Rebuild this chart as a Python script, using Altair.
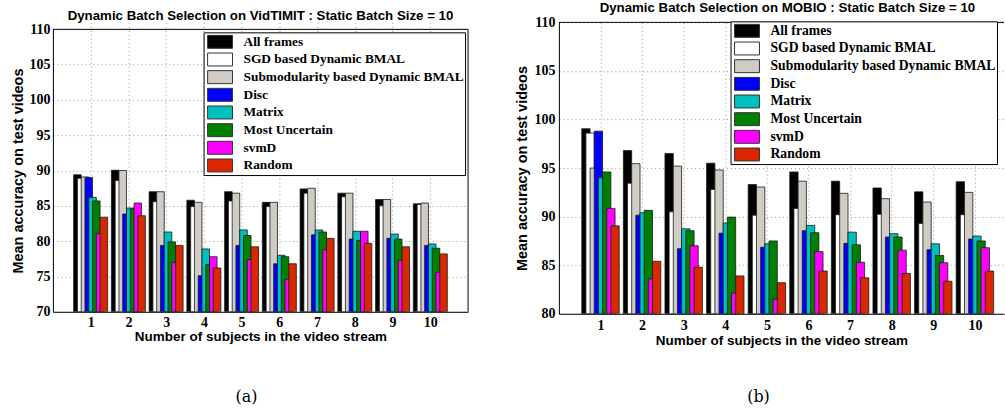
import altair as alt
import pandas as pd

subjects = [1, 2, 3, 4, 5, 6, 7, 8, 9, 10]
series_names = ["All frames", "SGD based Dynamic BMAL", "Submodularity based Dynamic BMAL",
                "Disc", "Matrix", "Most Uncertain", "svmD", "Random"]
series_colors = ["#000000", "#ffffff", "#d0ccc5", "#0000ff", "#00bfbf", "#008000", "#ff00ff", "#d92800"]

# Panel (a): VidTIMIT
all_frames_a = [89.4, 90.05, 87.0, 85.8, 87.0, 85.5, 87.4, 86.8, 85.9, 85.3]
sgd_a = [88.9, 88.6, 85.6, 84.9, 85.7, 84.9, 86.8, 86.3, 85.0, 85.2]
submod_a = [89.1, 90.0, 87.0, 85.5, 86.8, 85.5, 87.5, 86.8, 85.9, 85.4]
disc_a = [89.0, 83.85, 79.4, 75.1, 79.4, 76.8, 80.9, 80.3, 80.4, 79.4]
matrix_a = [86.2, 84.7, 81.3, 78.9, 81.6, 78.0, 81.6, 81.4, 81.0, 79.6]
uncertain_a = [85.7, 84.55, 79.9, 76.7, 80.8, 77.8, 81.3, 80.1, 80.3, 79.0]
svmd_a = [81.1, 85.4, 77.0, 77.8, 77.4, 74.6, 78.8, 81.4, 77.3, 75.6]
random_a = [83.4, 83.6, 79.4, 76.2, 79.2, 76.8, 80.4, 79.7, 79.2, 78.2]

# Panel (b): MOBIO
all_frames_b = [99.05, 96.8, 96.5, 95.5, 93.3, 94.6, 93.65, 92.95, 92.55, 93.6]
sgd_b = [98.6, 93.45, 90.5, 92.8, 90.15, 90.85, 90.2, 90.25, 89.3, 90.2]
submod_b = [95.0, 95.45, 95.2, 94.8, 93.05, 93.65, 92.4, 91.85, 91.5, 92.5]
disc_b = [98.8, 90.15, 86.7, 88.3, 86.85, 88.55, 87.25, 87.9, 86.6, 87.7]
matrix_b = [94.0, 90.4, 88.75, 89.35, 87.2, 89.1, 88.4, 88.25, 87.2, 88.0]
uncertain_b = [94.6, 90.65, 88.55, 89.95, 87.5, 88.35, 87.1, 87.9, 86.0, 87.5]
svmd_b = [90.85, 83.6, 87.0, 82.15, 81.5, 86.4, 85.3, 86.55, 85.25, 86.8]
random_b = [89.05, 85.4, 84.8, 83.9, 83.2, 84.4, 83.7, 84.15, 83.35, 84.4]

values_a = [all_frames_a, sgd_a, submod_a, disc_a, matrix_a, uncertain_a, svmd_a, random_a]
values_b = [all_frames_b, sgd_b, submod_b, disc_b, matrix_b, uncertain_b, svmd_b, random_b]

STEP = 0.1     # shift between overlapping bars of a group (x units)
BAR_W = 0.2    # bar width (x units)
SYMBOL = "M-1.56,-0.81H1.56V0.81H-1.56Z"

LABEL_FONT = "Liberation Serif"
TITLE_FONT = "Liberation Sans"


def long_table(series_values, base):
    rows = []
    for i, (name, vals) in enumerate(zip(series_names, series_values)):
        for s, v in zip(subjects, vals):
            x0 = s - 0.45 + i * STEP
            rows.append({"series": name, "order": i, "subject": s, "acc": v,
                         "x0": x0, "x1": x0 + BAR_W, "base": base})
    return pd.DataFrame(rows)


def panel(series_values, base, ymax, xmax, w, h, top, title_params, leg_x, leg_y,
          label_size, cap, cap_x, cap_y, y_lab_pad, y_title_pad, x_lab_pad, x_title_pad,
          right_border):
    df = long_table(series_values, base)
    axis_common = dict(labelFont=LABEL_FONT, labelFontWeight="bold", labelFontSize=14,
                       labelColor="black", titleFont=TITLE_FONT, titleFontWeight="bold",
                       titleColor="black", grid=True, gridDash=[1, 3], gridColor="#999999",
                       domainColor="black", domainWidth=1, ticks=False, labelOverlap=False)
    bars = alt.Chart(df).mark_bar(stroke="#1a1a1a", strokeWidth=0.8, clip=True).encode(
        x=alt.X("x0:Q", scale=alt.Scale(domain=[0, xmax], nice=False, zero=False),
                axis=alt.Axis(values=subjects, format="d",
                              title="Number of subjects in the video stream", titleFontSize=13.5,
                              labelPadding=x_lab_pad, titlePadding=x_title_pad, **axis_common)),
        x2="x1:Q",
        y=alt.Y("acc:Q", scale=alt.Scale(domain=[base, ymax], nice=False, zero=False,
                                         range=[h, top]),
                axis=alt.Axis(values=list(range(base, ymax + 1, 5)),
                              title="Mean accuracy on test videos", titleFontSize=14.5,
                              labelPadding=y_lab_pad, titlePadding=y_title_pad, **axis_common)),
        y2="base:Q",
        color=alt.Color("series:N",
                        scale=alt.Scale(domain=series_names, range=series_colors),
                        legend=alt.Legend(title=None, orient="none", legendX=leg_x, legendY=leg_y,
                                          fillColor="white", strokeColor="black", padding=1,
                                          rowPadding=0.7, symbolType=SYMBOL, symbolSize=256,
                                          symbolOffset=7, labelOffset=15,
                                          symbolStrokeColor="#333", symbolStrokeWidth=1,
                                          labelFont=LABEL_FONT, labelFontWeight="bold",
                                          labelFontSize=label_size, labelColor="black",
                                          labelLimit=400)),
        order=alt.Order("order:Q"),
    )
    caption = alt.Chart(pd.DataFrame({"cap": [cap]})).mark_text(
        font="DejaVu Serif", fontSize=16, color="black", align="center", baseline="middle"
    ).encode(text="cap:N", x=alt.value(cap_x), y=alt.value(cap_y))
    frame = alt.Chart(pd.DataFrame({"k": [0]}))
    layers = [bars, caption,
              frame.mark_rule(color="black", strokeWidth=1).encode(
                  x=alt.value(0), x2=alt.value(w), y=alt.value(top))]
    if right_border:
        layers.append(frame.mark_rule(color="black", strokeWidth=1).encode(
            x=alt.value(w), y=alt.value(top), y2=alt.value(h)))
    return alt.layer(*layers).properties(
        width=w, height=h, title=title_params,
        view=alt.ViewConfig(stroke=None),
    )


title_a = alt.TitleParams(
    text="Dynamic Batch Selection on VidTIMIT : Static Batch Size = 10",
    font=TITLE_FONT, fontWeight="bold", fontSize=13.3, color="black", offset=1, dy=1)
title_b = alt.TitleParams(
    text="Dynamic Batch Selection on MOBIO : Static Batch Size = 10",
    font=TITLE_FONT, fontWeight="bold", fontSize=13.3, color="black", offset=1, dx=6)

chart_a = panel(values_a, 70, 110, 11, 416, 290, 7, title_a, 151, 10, 13.4,
                "(a)", 194, 375, 3, 3, 4, 0, True)
chart_b = panel(values_b, 80, 110, 10.7, 446, 292, 0, title_b, 172, -1, 13.7,
                "(b)", 200, 375, 4, 4, 5, 1, False)

chart = alt.hconcat(chart_a, chart_b, spacing=46).resolve_scale(
    color="independent", x="independent", y="independent"
).resolve_legend(color="independent").properties(
    padding={"left": 11, "top": 0, "right": 0, "bottom": 0},
    background="white",
)

chart.save("out.html", embed_options={"renderer": "svg", "actions": False})
